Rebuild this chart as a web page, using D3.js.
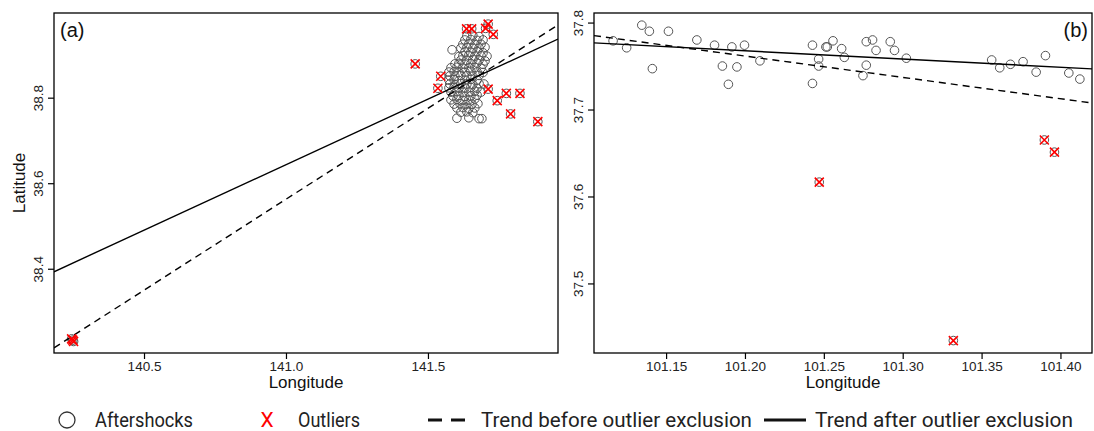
<!DOCTYPE html>
<html>
<head>
<meta charset="utf-8">
<script src="https://cdn.jsdelivr.net/npm/d3@7"></script>
<style>
  body { margin: 0; background: #fff; }
  svg { display: block; }
  .tick text { font-family: 'Liberation Sans', Arial, sans-serif; font-size: 13.5px; fill: #222; }
  .tick line { stroke: #000; stroke-width: 1.2; }
</style>
</head>
<body>
<div id="chart"></div>
<script>
// panel (a): aftershock cluster (lon, lat)
const shocksA = [
  [141.637, 38.944], [141.658, 38.946], [141.680, 38.943],
  [141.630, 38.935], [141.651, 38.936], [141.673, 38.934], [141.694, 38.935],
  [141.623, 38.925], [141.644, 38.926], [141.665, 38.924], [141.687, 38.925],
  [141.616, 38.916], [141.637, 38.917], [141.658, 38.915], [141.680, 38.916], [141.701, 38.918],
  [141.585, 38.912],
  [141.630, 38.907], [141.651, 38.906], [141.673, 38.908], [141.694, 38.905],
  [141.609, 38.896], [141.623, 38.898], [141.644, 38.899], [141.665, 38.897], [141.687, 38.898], [141.708, 38.897],
  [141.616, 38.888], [141.637, 38.887], [141.658, 38.889], [141.680, 38.888], [141.701, 38.886],
  [141.595, 38.879], [141.609, 38.880], [141.630, 38.878], [141.651, 38.879], [141.673, 38.881], [141.694, 38.878],
  [141.581, 38.870], [141.602, 38.871], [141.623, 38.869], [141.644, 38.870], [141.665, 38.871], [141.687, 38.869],
  [141.574, 38.860], [141.592, 38.861], [141.609, 38.859], [141.630, 38.860], [141.651, 38.862], [141.673, 38.860], [141.694, 38.859],
  [141.577, 38.851], [141.595, 38.850], [141.616, 38.852], [141.637, 38.851], [141.658, 38.850], [141.680, 38.852],
  [141.574, 38.841], [141.592, 38.842], [141.609, 38.840], [141.630, 38.841], [141.651, 38.843], [141.673, 38.841],
  [141.577, 38.832], [141.595, 38.831], [141.616, 38.833], [141.637, 38.832], [141.658, 38.831], [141.680, 38.833], [141.697, 38.832],
  [141.574, 38.823], [141.592, 38.824], [141.609, 38.822], [141.630, 38.823], [141.651, 38.824], [141.673, 38.822],
  [141.581, 38.813], [141.602, 38.814], [141.623, 38.812], [141.644, 38.813], [141.665, 38.815], [141.687, 38.813],
  [141.588, 38.804], [141.609, 38.805], [141.630, 38.803], [141.651, 38.804], [141.673, 38.806],
  [141.581, 38.795], [141.602, 38.796], [141.623, 38.794], [141.644, 38.795], [141.665, 38.797],
  [141.592, 38.785], [141.613, 38.786], [141.634, 38.784], [141.655, 38.785], [141.676, 38.786],
  [141.602, 38.776], [141.623, 38.777], [141.644, 38.775], [141.665, 38.776],
  [141.616, 38.766], [141.637, 38.767], [141.658, 38.765],
  [141.602, 38.752], [141.644, 38.753], [141.680, 38.751], [141.690, 38.751]
]
const outliersA = [
  [140.245, 38.236], [140.252, 38.230], [140.249, 38.233],
  [141.455, 38.879],
  [141.636, 38.961], [141.654, 38.961], [141.703, 38.962], [141.712, 38.972], [141.730, 38.948],
  [141.545, 38.850], [141.535, 38.822], [141.712, 38.820], [141.744, 38.793],
  [141.776, 38.810], [141.824, 38.810], [141.791, 38.762], [141.887, 38.744]
]
const trendBeforeA = [[140.183, 38.215], [141.958, 38.970]]
const trendAfterA = [[140.183, 38.393], [141.958, 38.937]]
const xTicksA = [140.5, 141.0, 141.5]
const yTicksA = [38.4, 38.6, 38.8]

// panel (b)
const shocksB = [
  [101.1164, 37.779], [101.1250, 37.771], [101.1346, 37.797], [101.1394, 37.790],
  [101.1413, 37.747], [101.1515, 37.790], [101.1695, 37.780], [101.1807, 37.774],
  [101.1857, 37.750], [101.1895, 37.729], [101.1917, 37.772], [101.1949, 37.749],
  [101.1997, 37.774], [101.2095, 37.756], [101.2428, 37.774], [101.2428, 37.730],
  [101.2467, 37.758], [101.2467, 37.750], [101.2513, 37.772], [101.2522, 37.772],
  [101.2558, 37.779], [101.2613, 37.770], [101.2630, 37.760], [101.2769, 37.778],
  [101.2809, 37.780], [101.2831, 37.768], [101.2769, 37.751], [101.2748, 37.739],
  [101.2921, 37.778], [101.2948, 37.768], [101.3023, 37.759], [101.3564, 37.757],
  [101.3615, 37.748], [101.3683, 37.752], [101.3763, 37.755], [101.3846, 37.743],
  [101.3905, 37.762], [101.4053, 37.742], [101.4123, 37.735]
]
const outliersB = [[101.3898, 37.665], [101.3962, 37.651], [101.2471, 37.6165], [101.3321, 37.4343]]
const trendBeforeB = [[101.1043, 37.785], [101.4200, 37.7075]]
const trendAfterB = [[101.1043, 37.7766], [101.4200, 37.7467]]
const xTicksB = [101.15, 101.20, 101.25, 101.30, 101.35, 101.40]
const yTicksB = [37.5, 37.6, 37.7, 37.8]

const legendItems = ['Aftershocks', 'Outliers', 'Trend before outlier exclusion', 'Trend after outlier exclusion']

const width = 1094
const height = 431
const plotTop = 13, plotBottom = 353

const svg = d3.select('#chart').append('svg')
  .attr('width', width)
  .attr('height', height)

svg.append('rect').attr('width', width).attr('height', height).attr('fill', '#fff')

function panel(cfg) {
  const x = d3.scaleLinear().domain(cfg.xDomain).range([cfg.left, cfg.right])
  const y = d3.scaleLinear().domain(cfg.yDomain).range([plotBottom, plotTop])
  const g = svg.append('g')

  const clipId = 'clip-' + cfg.name
  svg.append('clipPath').attr('id', clipId)
    .append('rect')
    .attr('x', cfg.left).attr('y', plotTop)
    .attr('width', cfg.right - cfg.left).attr('height', plotBottom - plotTop)

  const plot = g.append('g').attr('clip-path', `url(#${clipId})`)

  // circles for every event, outliers included
  plot.selectAll('circle.shock')
    .data(cfg.shocks.concat(cfg.outliers))
    .enter().append('circle')
    .attr('class', 'shock')
    .attr('cx', d => x(d[0]))
    .attr('cy', d => y(d[1]))
    .attr('r', 4.3)
    .attr('fill', 'none')
    .attr('stroke', '#555')
    .attr('stroke-width', 1)

  const line = d3.line().x(d => x(d[0])).y(d => y(d[1]))
  plot.append('path').attr('d', line(cfg.before))
    .attr('fill', 'none').attr('stroke', '#000').attr('stroke-width', 1.4)
    .attr('stroke-dasharray', '7,5')
  plot.append('path').attr('d', line(cfg.after))
    .attr('fill', 'none').attr('stroke', '#000').attr('stroke-width', 1.4)

  const s = 4.5
  plot.selectAll('path.out')
    .data(cfg.outliers)
    .enter().append('path')
    .attr('class', 'out')
    .attr('d', d => {
      const cx = x(d[0]), cy = y(d[1])
      return `M${cx - s},${cy - s}L${cx + s},${cy + s}M${cx - s},${cy + s}L${cx + s},${cy - s}`
    })
    .attr('stroke', '#f00')
    .attr('stroke-width', 1.6)

  g.append('rect')
    .attr('x', cfg.left).attr('y', plotTop)
    .attr('width', cfg.right - cfg.left).attr('height', plotBottom - plotTop)
    .attr('fill', 'none').attr('stroke', '#000').attr('stroke-width', 1.3)

  const xa = g.append('g').attr('transform', `translate(0,${plotBottom})`)
    .call(d3.axisBottom(x).tickValues(cfg.xTicks).tickFormat(d3.format(cfg.xFmt)).tickSize(6).tickSizeOuter(0))
  xa.select('.domain').remove()
  xa.selectAll('.tick text').attr('y', 18).attr('dy', 0)

  const ya = g.append('g').attr('transform', `translate(${cfg.left},0)`)
    .call(d3.axisLeft(y).tickValues(cfg.yTicks).tickFormat(d3.format('.1f')).tickSize(6).tickSizeOuter(0))
  ya.select('.domain').remove()
  ya.selectAll('.tick text')
    .attr('transform', 'rotate(-90)')
    .attr('x', 0).attr('y', -11).attr('dy', 0)
    .attr('text-anchor', 'middle')

  g.append('text')
    .attr('x', (cfg.left + cfg.right) / 2).attr('y', 388)
    .attr('text-anchor', 'middle')
    .style('font-family', "'Liberation Sans', Arial, sans-serif")
    .style('font-size', '17px').attr('fill', '#111')
    .text('Longitude')

  g.append('text')
    .attr('x', cfg.labelX).attr('y', 37)
    .attr('text-anchor', cfg.labelAnchor)
    .style('font-family', "'Liberation Sans', Arial, sans-serif")
    .style('font-size', '20px').attr('fill', '#111')
    .text(cfg.label)
}

panel({
  name: 'a', left: 54, right: 558,
  xDomain: [140.183, 141.958], yDomain: [38.203, 38.998],
  shocks: shocksA, outliers: outliersA, before: trendBeforeA, after: trendAfterA,
  xTicks: xTicksA, yTicks: yTicksA, xFmt: '.1f',
  label: '(a)', labelX: 60, labelAnchor: 'start'
})

panel({
  name: 'b', left: 594, right: 1092,
  xDomain: [101.1043, 101.42], yDomain: [37.42, 37.811],
  shocks: shocksB, outliers: outliersB, before: trendBeforeB, after: trendAfterB,
  xTicks: xTicksB, yTicks: yTicksB, xFmt: '.2f',
  label: '(b)', labelX: 1088, labelAnchor: 'end'
})

svg.append('text')
  .attr('transform', 'translate(25,183) rotate(-90)')
  .attr('text-anchor', 'middle')
  .style('font-family', "'Liberation Sans', Arial, sans-serif")
  .style('font-size', '17px').attr('fill', '#111')
  .text('Latitude')

// legend
const ly = 420
const lg = svg.append('g')
  .style('font-family', 'Roboto, sans-serif')
  .style('font-size', '20px')

lg.append('circle').attr('cx', 67).attr('cy', ly).attr('r', 8)
  .attr('fill', 'none').attr('stroke', '#333').attr('stroke-width', 1.3)
lg.append('text').attr('x', 267).attr('y', ly + 7).attr('text-anchor', 'middle')
  .attr('fill', '#f00').style('font-size', '21px').text('X')
lg.append('line').attr('x1', 428).attr('x2', 470).attr('y1', ly).attr('y2', ly)
  .attr('stroke', '#111').attr('stroke-width', 3).attr('stroke-dasharray', '14,9')
lg.append('line').attr('x1', 764).attr('x2', 806).attr('y1', ly).attr('y2', ly)
  .attr('stroke', '#111').attr('stroke-width', 3)

lg.selectAll('text.item')
  .data(legendItems)
  .enter().append('text')
  .attr('class', 'item')
  .attr('x', (d, i) => [95, 298, 481, 815][i])
  .attr('y', ly + 7)
  .attr('textLength', (d, i) => [98, 62, 271, 258][i])
  .attr('lengthAdjust', 'spacingAndGlyphs')
  .attr('fill', '#222')
  .text(d => d)
</script>
</body>
</html>
